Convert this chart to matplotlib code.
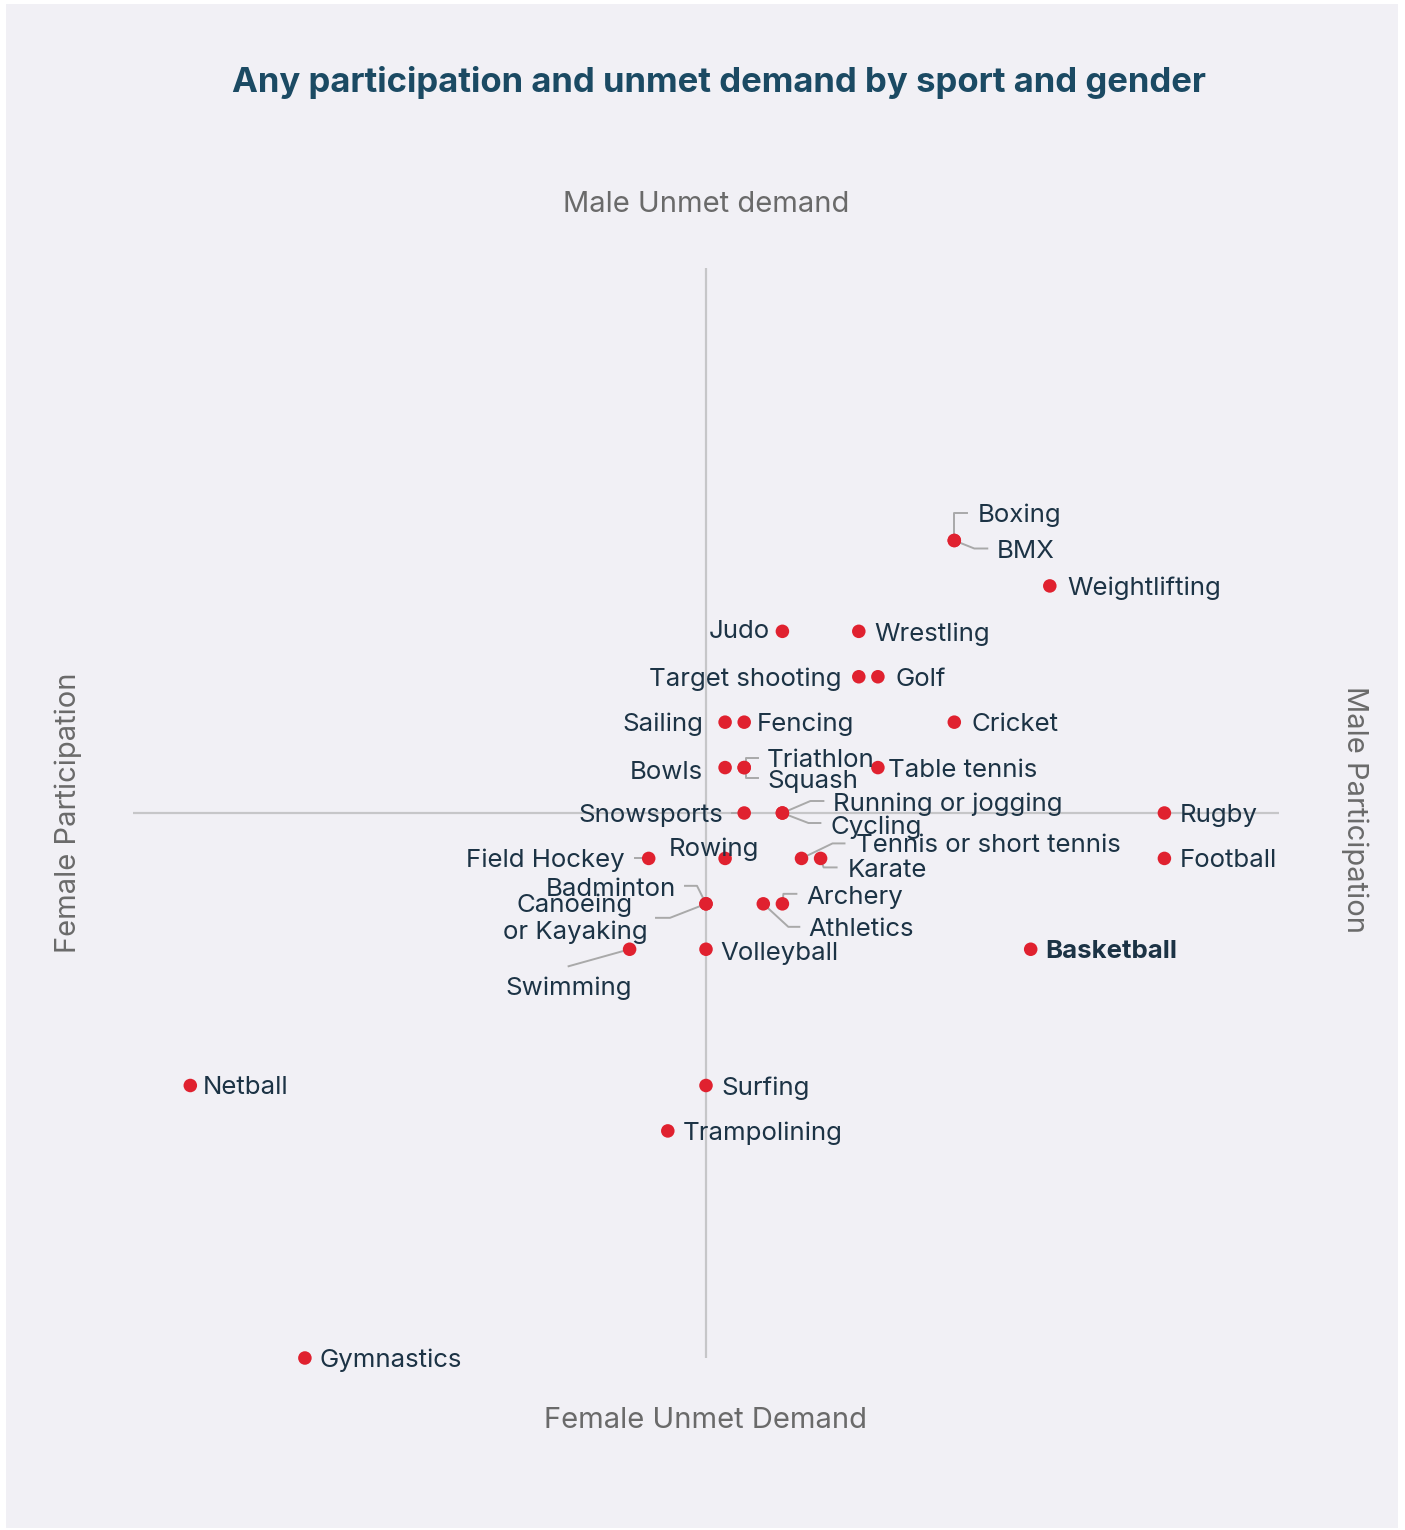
#!/usr/bin/env python3
# -*- coding: utf-8 -*-
"""
Participación y demanda insatisfecha por deporte y género (scatter cuadrante).
"""
import matplotlib
matplotlib.use("Agg")
import matplotlib.pyplot as plt
from matplotlib.patches import Rectangle

# datos
sports = ["Boxing", "BMX", "Weightlifting", "Judo", "Wrestling", "Target shooting",
          "Golf", "Sailing", "Fencing", "Cricket", "Bowls", "Triathlon", "Squash",
          "Table tennis", "Snowsports", "Running or jogging", "Cycling", "Rugby",
          "Field Hockey", "Rowing", "Tennis or short tennis", "Karate", "Football",
          "Badminton", "Canoeing\nor Kayaking", "Archery", "Athletics", "Swimming",
          "Volleyball", "Basketball", "Netball", "Surfing", "Trampolining", "Gymnastics"]
participation_gap = [13, 13, 18, 4, 8, 8, 9, 1, 2, 13, 1, 2, 2, 9, 2, 4, 4, 24,
                     -3, 1, 5, 6, 24, 0, 0, 4, 3, -4, 0, 17, -27, 0, -2, -21]
unmet_demand_gap = [6, 6, 5, 4, 4, 3, 3, 2, 2, 2, 1, 1, 1, 1, 0, 0, 0, 0,
                    -1, -1, -1, -1, -1, -2, -2, -2, -2, -3, -3, -3, -6, -6, -7, -12]
highlight = "Basketball"

title = "Any participation and unmet demand by sport and gender"
axis_top = "Male Unmet demand"
axis_bottom = "Female Unmet Demand"
axis_left = "Female Participation"
axis_right = "Male Participation"

# estilos de etiquetas: (dx, dy, ha, leader) en píxeles de imagen (y hacia abajo)
label_style = {
    "Boxing": (23, -28, "left", [(0, 0), (0, -28), (13, -28)]),
    "BMX": (42, 8, "left", [(0, 0), (20, 8), (33, 8)]),
    "Weightlifting": (18, 0, "left", None),
    "Judo": (-13, -2, "right", None),
    "Wrestling": (16, 0, "left", None),
    "Target shooting": (-17, 0, "right", None),
    "Golf": (18, 0, "left", None),
    "Sailing": (-22, 0, "right", None),
    "Fencing": (13, 0, "left", None),
    "Cricket": (17, 0, "left", None),
    "Bowls": (-22, 2, "right", None),
    "Triathlon": (23, -10, "left", [(2, 0), (2, -10), (14, -10)]),
    "Squash": (23, 11, "left", [(2, 0), (2, 10), (14, 10)]),
    "Table tennis": (10, 0, "left", None),
    "Snowsports": (-21, 0, "right", [(-12, 0), (-2, 0)]),
    "Running or jogging": (51, -11, "left", [(0, 0), (28, -12), (41, -12)]),
    "Cycling": (48, 12, "left", [(0, 0), (26, 10), (38, 10)]),
    "Rugby": (15, 0, "left", None),
    "Field Hockey": (-24, -1, "right", [(-14, 0), (-2, 0)]),
    "Rowing": (-11, -12, "center", None),
    "Tennis or short tennis": (54, -15, "left", [(0, 0), (31, -15), (43, -15)]),
    "Karate": (27, 10, "left", [(0, 0), (3, 9), (16, 9)]),
    "Football": (15, 0, "left", None),
    "Badminton": (-30, -17, "right", [(0, 0), (-9, -18), (-21, -18)]),
    "Canoeing\nor Kayaking": (-131, 15, "center", [(0, 0), (-36, 14), (-50, 14)]),
    "Archery": (24, -9, "left", [(0, 0), (1, -10), (14, -10)]),
    "Athletics": (45, 23, "left", [(0, 0), (25, 23), (36, 23)]),
    "Swimming": (-61, 36, "center", [(0, 0), (-61, 17)]),
    "Volleyball": (14, 2, "left", None),
    "Basketball": (15, 0, "left", None),
    "Netball": (12, 0, "left", None),
    "Surfing": (15, 0, "left", None),
    "Trampolining": (15, 0, "left", None),
    "Gymnastics": (15, 0, "left", None),
}

W, H = 1405, 1530
BG = "#f1f0f5"
RED = "#e0212f"
NAVY = "#1c3345"
GREY_TXT = "#6a6a6a"
LINE = "#c6c6c8"
LEADER = "#a9a9a9"

plt.rcParams["font.family"] = ["Inter", "DejaVu Sans"]


def main():
    fig = plt.figure(figsize=(W / 100, H / 100), dpi=100)
    fig.patch.set_facecolor("white")
    fig.patches.append(Rectangle((6 / W, 1 - 1528 / H), 1392 / W, 1524 / H,
                                 transform=fig.transFigure, facecolor=BG,
                                 edgecolor="none", zorder=-10))

    ax = fig.add_axes([133 / W, 1 - 1358 / H, 1146 / W, 1090 / H])
    ax.set_zorder(1)
    ax.set_xlim(-30, 30)
    ax.set_ylim(-12, 12)
    ax.axis("off")

    # ejes cruzados
    ax.plot([-30, 30], [0, 0], color=LINE, lw=1.6, zorder=1, solid_capstyle="butt")
    ax.plot([0, 0], [-12, 12], color=LINE, lw=1.6, zorder=1, solid_capstyle="butt")

    ax.scatter(participation_gap, unmet_demand_gap, s=95, color=RED, zorder=4,
               edgecolors="none", clip_on=False)

    inv = ax.transData.inverted()
    for name, x, y in zip(sports, participation_gap, unmet_demand_gap):
        dx, dy, ha, leader = label_style[name]
        va = "center" if "\n" in name else "center_baseline"
        weight = "bold" if name == highlight else "normal"
        ax.annotate(name, (x, y), xytext=(dx, -dy), textcoords="offset pixels",
                    ha=ha, va=va, fontsize=18.6, color=NAVY, fontweight=weight,
                    multialignment="center", linespacing=1.15, zorder=5,
                    annotation_clip=False)
        if leader:
            px, py = ax.transData.transform((x, y))
            pts = [inv.transform((px + lx, py - ly)) for lx, ly in leader]
            ax.plot([p[0] for p in pts], [p[1] for p in pts], color=LEADER,
                    lw=1.4, zorder=3, clip_on=False)

    fig.text(719 / W, 1 - 79 / H, title, ha="center", va="center_baseline",
             fontsize=25, fontweight="bold", color="#1b4a63")
    fig.text(706 / W, 1 - 202 / H, axis_top, ha="center", va="center_baseline",
             fontsize=21, color=GREY_TXT)
    fig.text(706 / W, 1 - 1417 / H, axis_bottom, ha="center", va="center_baseline",
             fontsize=21, color=GREY_TXT)
    fig.text(68 / W, 1 - 813 / H, axis_left, ha="center", va="center",
             rotation=90, fontsize=21, color=GREY_TXT)
    fig.text(1355 / W, 1 - 810 / H, axis_right, ha="center", va="center",
             rotation=270, fontsize=21, color=GREY_TXT)

    fig.savefig("out.png", dpi=100, facecolor=fig.get_facecolor())


if __name__ == "__main__":
    main()
